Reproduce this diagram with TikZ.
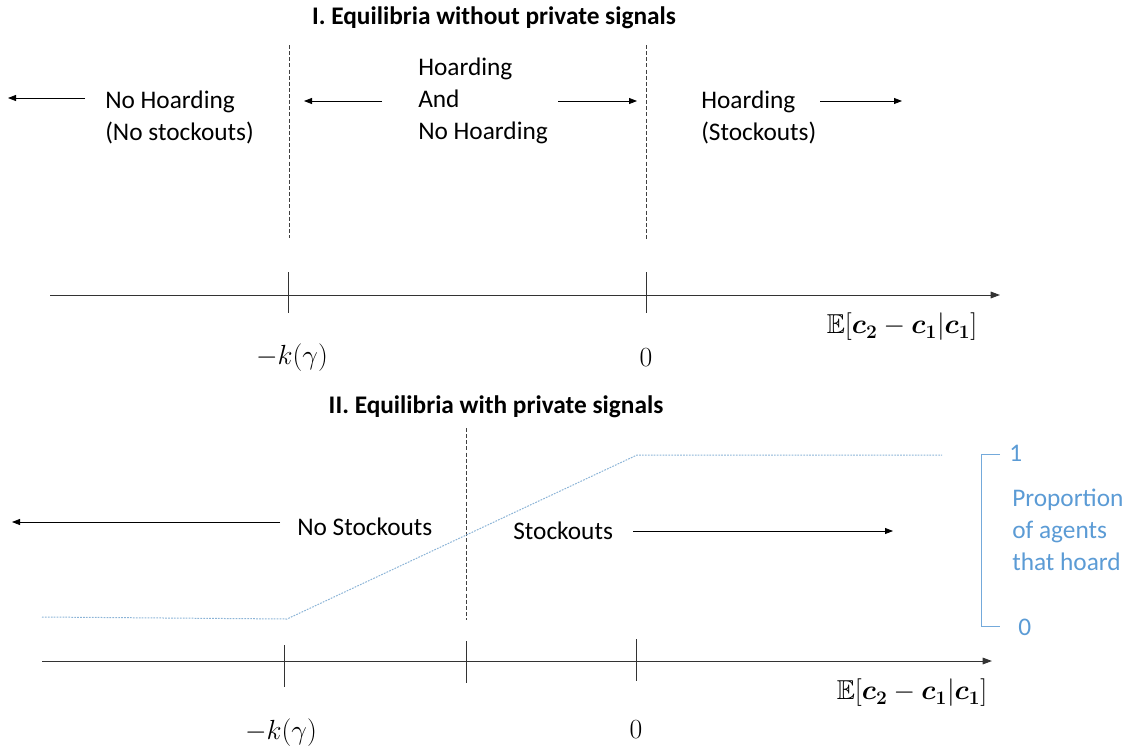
\documentclass[tikz,border=0pt]{standalone}
\usepackage{amsmath,amssymb}
\usepackage{bm}
\usepackage{fontspec}
\setmainfont{Carlito}
\usetikzlibrary{arrows.meta}

\definecolor{propblue}{RGB}{91,155,213}
\definecolor{shareblue}{RGB}{140,180,215}

\begin{document}
\begin{tikzpicture}[x=0.75pt, y=-0.75pt,
      Title/.style={font=\fontsize{19}{22}\selectfont\bfseries, inner sep=0pt},
      Label/.style={font=\fontsize{19}{24}\selectfont, align=left, inner sep=0pt, anchor=west},
      MathLabel/.style={font=\fontsize{20.5}{24}\selectfont, inner sep=0pt},
      Cut/.style={black!75, dash pattern=on 3pt off 1.6pt, line width=0.5pt},
      Dir/.style={-{Triangle[length=6pt,width=4.5pt]}, line width=0.6pt},
      Axis/.style={-{Triangle[length=7pt,width=5pt]}, line width=0.75pt, black!80},
      Share/.style={shareblue, dash pattern=on 1.3pt off 0.9pt, line width=0.75pt},
      ]
      \useasboundingbox (0,0) rectangle (1132,751);

      % I. without private signals
      \node[Title] (title1) at (494,18) {I. Equilibria without private signals};

      \draw[Cut] (289,45) -- (289,238);
      \draw[Cut] (646,45) -- (646,240);

      \node[Label] (nohoard) at (105,117) {No Hoarding\\(No stockouts)};
      \node[Label] (both) at (418,101) {Hoarding\\And\\No Hoarding};
      \node[Label] (hoard) at (701,117) {Hoarding\\(Stockouts)};

      \coordinate (nh-a) at (85,98);   \coordinate (nh-b) at (8,98);
      \coordinate (bl-a) at (382,101); \coordinate (bl-b) at (304,101);
      \coordinate (br-a) at (558,101); \coordinate (br-b) at (637,101);
      \coordinate (h-a) at (820,101);  \coordinate (h-b) at (902,101);
      \draw[Dir] (nh-a) -- (nh-b);
      \draw[Dir] (bl-a) -- (bl-b);
      \draw[Dir] (br-a) -- (br-b);
      \draw[Dir] (h-a) -- (h-b);

      \coordinate (axis1-s) at (50,295);
      \coordinate (axis1-e) at (1000,295);
      \draw[Axis] (axis1-s) -- (axis1-e);
      \foreach \x in {288,646}
        \draw[black!80, line width=0.5pt] (\x,272) -- (\x,313);

      \node[MathLabel] (kgamma1) at (292,358) {$-k(\gamma)$};
      \node[MathLabel] (zero1) at (646,358) {$0$};
      \node[MathLabel] (expect1) at (902,327) {$\mathbb{E}[\bm{c}_{\bm{2}}-\bm{c}_{\bm{1}}|\bm{c}_{\bm{1}}]$};

      % II. with private signals
      \node[Title] (title2) at (496,407) {II. Equilibria with private signals};

      \draw[Cut] (466,428) -- (466,620);
      \draw[Share] (42,617) -- (287,619) -- (637,455) -- (942,455);

      \node[Label] (nostock) at (297,527) {No Stockouts};
      \node[Label] (stock) at (513,531) {Stockouts};
      \coordinate (ns-a) at (280,522); \coordinate (ns-b) at (12,522);
      \coordinate (s-a) at (633,531);  \coordinate (s-b) at (893,531);
      \draw[Dir] (ns-a) -- (ns-b);
      \draw[Dir] (s-a) -- (s-b);

      \draw[propblue!85, line width=0.55pt] (1000,454) -- (981,454) -- (981,626) -- (1000,626);
      \node[Label, text=propblue] (one) at (1009,453) {1};
      \node[Label, text=propblue] (nil) at (1018,627) {0};
      \node[Label, text=propblue] (share) at (1012,530) {Proportion\\of agents\\that hoard};

      \coordinate (axis2-s) at (42,661);
      \coordinate (axis2-e) at (992,661);
      \draw[Axis] (axis2-s) -- (axis2-e);
      \draw[black!80, line width=0.5pt] (284,645) -- (284,687);
      \draw[black!80, line width=0.5pt] (466,641) -- (466,683);
      \draw[black!80, line width=0.5pt] (636,639) -- (636,681);

      \node[MathLabel] (kgamma2) at (281,733) {$-k(\gamma)$};
      \node[MathLabel] (zero2) at (636,730) {$0$};
      \node[MathLabel] (expect2) at (912,693) {$\mathbb{E}[\bm{c}_{\bm{2}}-\bm{c}_{\bm{1}}|\bm{c}_{\bm{1}}]$};
    \end{tikzpicture}
\end{document}
